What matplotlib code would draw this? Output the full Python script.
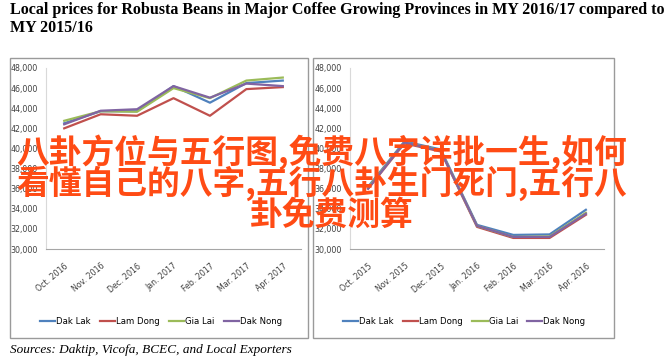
import matplotlib
matplotlib.use('Agg')
import matplotlib.pyplot as plt
from matplotlib.patches import Rectangle

# data (VND/kg)
months_1617 = ['Oct. 2016', 'Nov. 2016', 'Dec. 2016', 'Jan. 2017', 'Feb. 2017', 'Mar. 2017', 'Apr. 2017']
months_1516 = ['Oct. 2015', 'Nov. 2015', 'Dec. 2015', 'Jan. 2016', 'Feb. 2016', 'Mar. 2016', 'Apr. 2016']
provinces = ['Dak Lak', 'Lam Dong', 'Gia Lai', 'Dak Nong']
colors = ['#4f81bd', '#c0504d', '#9bbb59', '#8064a2']

dak_lak_1617 = [42500, 43700, 43700, 46200, 44550, 46500, 46750]
lam_dong_1617 = [42000, 43400, 43250, 45000, 43250, 45900, 46100]
gia_lai_1617 = [42750, 43700, 43650, 46000, 45000, 46750, 47050]
dak_nong_1617 = [42400, 43750, 43900, 46200, 45050, 46450, 46200]

dak_lak_1516 = [36200, 40700, 39900, 32400, 31400, 31450, 33900]
lam_dong_1516 = [36000, 40500, 39700, 32200, 31100, 31100, 33400]
gia_lai_1516 = [36100, 40600, 39800, 32300, 31200, 31250, 33600]
dak_nong_1516 = [36000, 40600, 39750, 32300, 31200, 31200, 33500]

y_ticks = [30000, 32000, 34000, 36000, 38000, 40000, 42000, 44000, 46000, 48000]

W, H = 665, 359
fig = plt.figure(figsize=(W / 100, H / 100), dpi=100)
fig.patch.set_facecolor('white')

small = dict(family='DejaVu Sans', stretch='condensed', size=6.3)


def px(x0, y0, x1, y1):
    # pixel box (top-left origin) -> figure fraction
    return [x0 / W, 1 - y1 / H, (x1 - x0) / W, (y1 - y0) / H]


# panel frames
for x0, x1 in [(10, 308), (313, 614)]:
    fig.patches.append(Rectangle((x0 / W, 1 - 338 / H), (x1 - x0) / W, 280 / H,
                                 transform=fig.transFigure, fill=False,
                                 edgecolor='#9a9a9a', linewidth=1.0))


def panel(box, months, series):
    ax = fig.add_axes(px(*box))
    for vals, name, c in zip(series, provinces, colors):
        ax.plot(range(len(months)), vals, color=c, linewidth=1.6, label=name)
    ax.set_xlim(-0.5, len(months) - 0.5)
    ax.set_ylim(30000, 48000)
    ax.set_yticks(y_ticks)
    ax.set_yticklabels([f'{v:,}' for v in y_ticks], color='#404040', **small)
    ax.set_xticks(range(len(months)))
    ax.set_xticklabels(months, rotation=40, ha='right', rotation_mode='anchor',
                       color='#404040', **small)
    ax.tick_params(length=0, pad=6)
    ax.tick_params(axis='x', pad=9)
    for s in ['top', 'right']:
        ax.spines[s].set_visible(False)
    ax.spines['left'].set_color('#d9d9d9')
    ax.spines['bottom'].set_color('#a6a6a6')
    ax.set_facecolor('none')
    ax.legend(loc='center', bbox_to_anchor=(0.45, -0.4), ncol=4, frameon=False,
              handlelength=1.6, handletextpad=0.1, columnspacing=1.0,
              prop=dict(family='DejaVu Sans', stretch='condensed', size=6.8))
    return ax


panel((46, 68, 301, 249), months_1617, [dak_lak_1617, lam_dong_1617, gia_lai_1617, dak_nong_1617])
panel((350, 68, 604, 249), months_1516, [dak_lak_1516, lam_dong_1516, gia_lai_1516, dak_nong_1516])

# title and source
fig.text(10 / W, 1 - 2 / H,
         'Local prices for Robusta Beans in Major Coffee Growing Provinces in MY 2016/17 compared to\nMY 2015/16',
         ha='left', va='top', fontsize=11.5, fontweight='bold', family='Liberation Serif',
         linespacing=1.15)
fig.text(10 / W, 1 - 350 / H, 'Sources: Daktip, Vicofa, BCEC, and Local Exporters',
         ha='left', va='center', fontsize=9.5, style='italic', family='Liberation Serif')

# overlaid caption
overlay = ['八卦方位与五行图,免费八字详批一生,如何',
           '看懂自己的八字,五行八卦生门死门,五行八',
           '卦免费测算']
for line, xc, yc in zip(overlay, [322, 322, 332], [152, 183, 215]):
    fig.text(xc / W, 1 - yc / H, line, ha='center', va='center', fontsize=23.6,
             fontweight='bold', color='#ff4b14', family=['Noto Sans CJK SC', 'DejaVu Sans'])

fig.savefig('out.png', dpi=100)
